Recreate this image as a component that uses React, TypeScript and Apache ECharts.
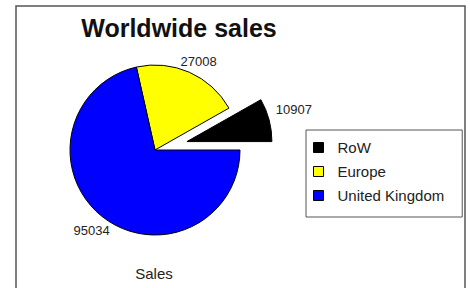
import React, { useEffect, useRef } from "react";
import * as echarts from "echarts";

const regions = ["RoW", "Europe", "United Kingdom"];
const sales = [10907, 27008, 95034];
const colors = ["#000000", "#ffff00", "#0000ff"];
const titleText = "Worldwide sales";
const seriesName = "Sales";
// small nudges of the value labels (style only)
const labelNudge = [
  [-8, -8],
  [-18, -2],
  [19, 6],
];

export default function App() {
  const ref = useRef<HTMLDivElement>(null);
  useEffect(() => {
    document.body.style.margin = "0";
    const chart = echarts.init(ref.current!, null, { renderer: "svg" });
    chart.setOption({
      animation: false,
      backgroundColor: "#ffffff",
      title: {
        text: titleText,
        left: 174,
        top: 10,
        textAlign: "center",
        textStyle: { fontFamily: "Liberation Sans", fontWeight: "bold", fontSize: 25, color: "#111" },
      },
      graphic: [
        {
          type: "rect",
          shape: { x: 16, y: 6, width: 449, height: 300 },
          style: { fill: "none", stroke: "#555", lineWidth: 1.5 },
          silent: true,
        },
        {
          type: "text",
          x: 154,
          y: 273,
          style: {
            text: seriesName,
            fontFamily: "Liberation Sans",
            fontSize: 15,
            fill: "#222",
            textAlign: "center",
            textVerticalAlign: "middle",
          },
        },
      ],
      legend: {
        orient: "vertical",
        left: 306,
        top: 130,
        borderColor: "#555",
        borderWidth: 1,
        padding: [10, 18, 14, 7],
        itemGap: 9,
        itemWidth: 10,
        itemHeight: 10,
        icon: "rect",
        itemStyle: { borderColor: "#000", borderWidth: 1 },
        textStyle: { fontFamily: "Liberation Sans", fontSize: 15, color: "#222", padding: [0, 0, 0, 9] },
        data: regions,
      },
      series: [
        {
          type: "pie",
          name: seriesName,
          center: [155, 150],
          radius: 85,
          startAngle: 0,
          clockwise: false,
          selectedMode: "single",
          selectedOffset: 33,
          avoidLabelOverlap: false,
          label: {
            show: true,
            position: "outside",
            formatter: "{c}",
            fontFamily: "Liberation Sans",
            fontSize: 13,
            color: "#222",
          },
          labelLine: { show: false, length: 10, length2: 0 },
          labelLayout: (p: any) => ({ dx: labelNudge[p.dataIndex][0], dy: labelNudge[p.dataIndex][1] }),
          itemStyle: { borderColor: "#000", borderWidth: 1 },
          emphasis: { disabled: true },
          data: regions.map((r, i) => ({
            name: r,
            value: sales[i],
            selected: i === 0,
            itemStyle: { color: colors[i] },
          })),
        },
      ],
    });
    return () => chart.dispose();
  }, []);
  return <div ref={ref} style={{ width: 470, height: 288 }} />;
}
